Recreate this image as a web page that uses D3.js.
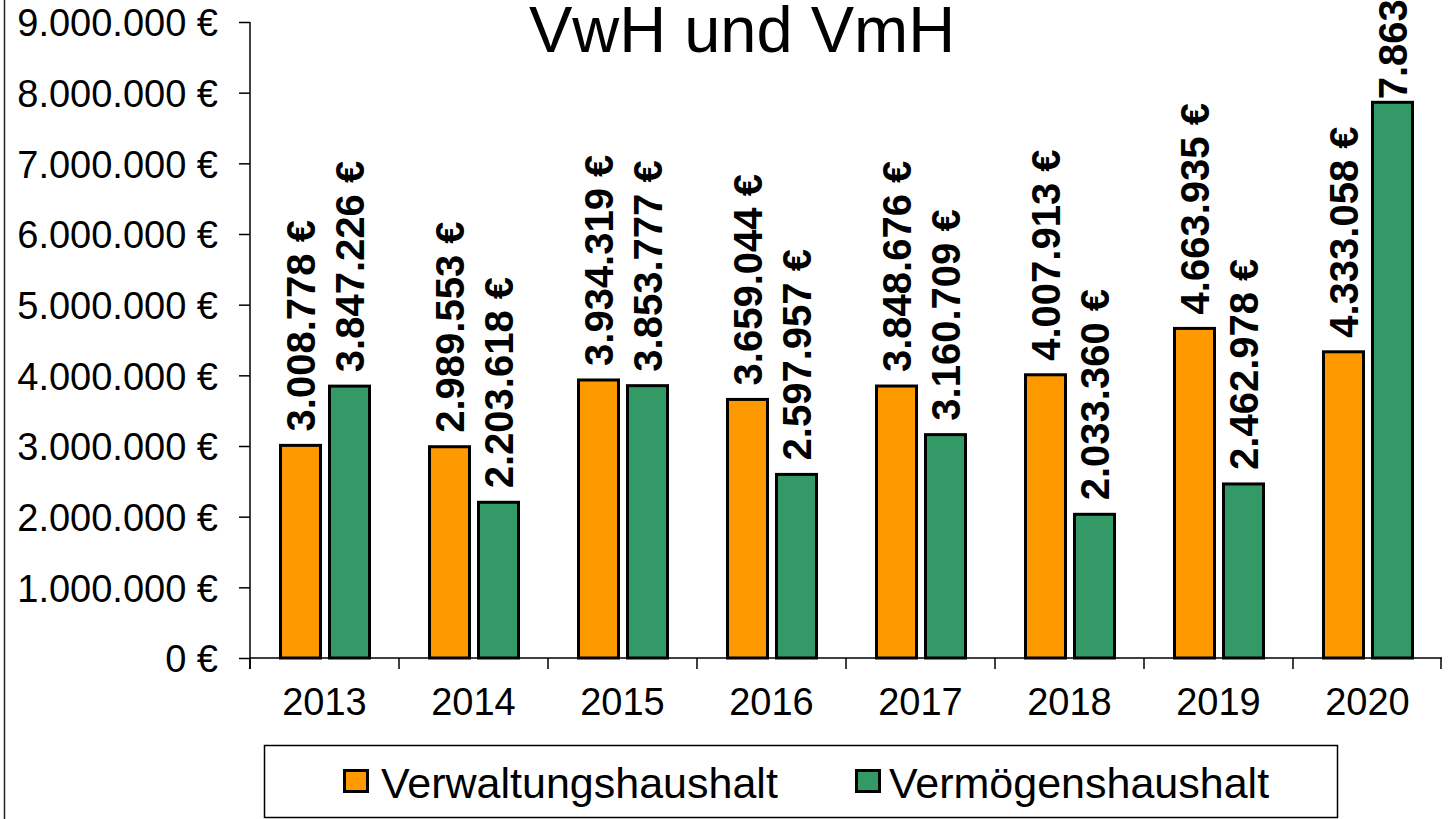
<!DOCTYPE html>
<html><head><meta charset="utf-8">
<script src="https://cdn.jsdelivr.net/npm/d3@7"></script>
<style>
html,body{margin:0;padding:0;background:#fff;}
svg{display:block;font-family:"Liberation Sans",Arial,sans-serif;}
</style></head>
<body>
<svg id="chart" width="1450" height="819"></svg>
<script>
const categories = ["2013","2014","2015","2016","2017","2018","2019","2020"];
const seriesNames = ["Verwaltungshaushalt","Vermögenshaushalt"];
const verwaltung = [3008778,2989553,3934319,3659044,3848676,4007913,4663935,4333058];
const vermoegen  = [3847226,2203618,3853777,2597957,3160709,2033360,2462978,7863500];
const yTicks = [0,1000000,2000000,3000000,4000000,5000000,6000000,7000000,8000000,9000000];
const colors = ["#FF9900","#339966"];
const title = "VwH und VmH";

(function(){
const svg = d3.select("#chart");
const pLeft = 250, pRight = 1442, pTop = 22, pBottom = 658;

const fmt = v => d3.format(",")(v).replace(/,/g,".") + " €";

const x0 = d3.scaleBand().domain(categories).range([pLeft,pRight]);
const x1 = d3.scaleBand().domain(seriesNames).range([29,121]).paddingInner(6/49).paddingOuter(0);
const y = d3.scaleLinear().domain([0,9000000]).range([pBottom,pTop]);

// left border
svg.append("line").attr("x1",4.5).attr("x2",4.5).attr("y1",0).attr("y2",819)
  .attr("stroke","#222").attr("stroke-width",1.5);

// title
svg.append("text").attr("x",742).attr("y",52).attr("text-anchor","middle")
  .attr("font-size",65).attr("fill","#000").text(title);

// y axis
const yAxis = d3.axisLeft(y).tickValues(yTicks).tickSize(11).tickPadding(0).tickFormat(fmt);
const ga = svg.append("g").attr("transform",`translate(${pLeft},0)`).call(yAxis);
ga.select(".domain").attr("stroke","#000").attr("stroke-width",1.5).attr("d",`M0,${pTop}V${pBottom+11}`);
ga.selectAll(".tick line").attr("stroke","#000").attr("stroke-width",1.5);
ga.selectAll(".tick text").attr("font-size",38).attr("fill","#000")
  .attr("font-family","'Liberation Sans',Arial,sans-serif").attr("x",-32).attr("dy","0.36em");

// x axis
const gx = svg.append("g").attr("transform",`translate(0,${pBottom})`);
gx.append("line").attr("x1",pLeft).attr("x2",pRight).attr("y1",0).attr("y2",0)
  .attr("stroke","#000").attr("stroke-width",1.5);
const bounds = categories.map(c=>x0(c)).concat([pRight-1]);
gx.selectAll("line.tk").data(bounds).join("line").attr("class","tk")
  .attr("x1",d=>d).attr("x2",d=>d).attr("y1",0).attr("y2",11)
  .attr("stroke","#000").attr("stroke-width",1.5);
gx.selectAll("text.cat").data(categories).join("text").attr("class","cat")
  .attr("x",d=>x0(d)+x0.bandwidth()/2).attr("y",57).attr("text-anchor","middle")
  .attr("font-size",38).attr("fill","#000").text(d=>d);

// bars
const data = [verwaltung, vermoegen];
const sw = 3;
data.forEach((vals,si)=>{
  const g = svg.append("g");
  g.selectAll("rect").data(vals).join("rect")
    .attr("x",(d,i)=>x0(categories[i])+x1(seriesNames[si])+sw/2)
    .attr("width",x1.bandwidth()-sw)
    .attr("y",d=>y(d))
    .attr("height",d=>pBottom-y(d))
    .attr("fill",colors[si]).attr("stroke","#000").attr("stroke-width",sw);
  g.selectAll("text").data(vals).join("text")
    .attr("transform",(d,i)=>{
      const cx = x0(categories[i])+x1(seriesNames[si])+x1.bandwidth()/2;
      const gap = y(d) < 140 ? 3 : 14;
      return `translate(${cx+14},${y(d)-gap}) rotate(-90)`;
    })
    .attr("font-size",40).attr("font-weight","bold").attr("fill","#000")
    .text(d=>fmt(d));
});

// legend
const lg = svg.append("g");
lg.append("rect").attr("x",264.5).attr("y",745.5).attr("width",1073).attr("height",72)
  .attr("fill","#fff").attr("stroke","#000").attr("stroke-width",1.5);
const swatchX = [343,855];
const textX = [381,889];
seriesNames.forEach((s,i)=>{
  lg.append("rect").attr("x",swatchX[i]+1.5).attr("y",770.5).attr("width",23).attr("height",21)
    .attr("fill",colors[i]).attr("stroke","#000").attr("stroke-width",3);
  lg.append("text").attr("x",textX[i]).attr("y",798).attr("font-size",43)
    .attr("fill","#000").text(s);
});
})();
</script>
</body></html>
